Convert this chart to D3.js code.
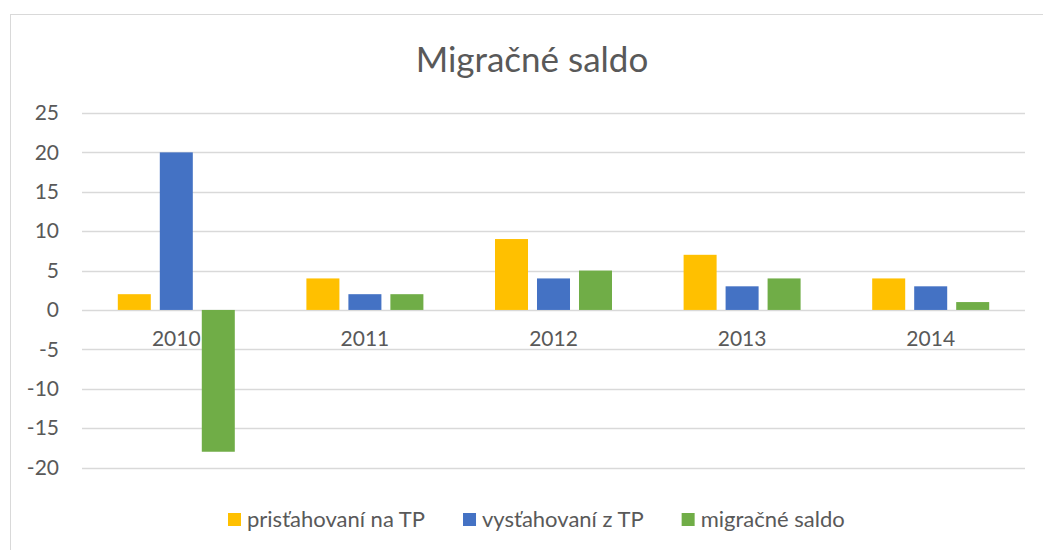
<!DOCTYPE html>
<html>
<head>
<meta charset="utf-8">
<script src="https://cdn.jsdelivr.net/npm/d3@7"></script>
<style>
  body { margin: 0; background: #fff; }
  text { font-family: Lato, "Open Sans", sans-serif; fill: #595959; }
</style>
</head>
<body>
<div id="chart"></div>
<script>
const years = ["2010", "2011", "2012", "2013", "2014"];
const seriesNames = ["prisťahovaní na TP", "vysťahovaní z TP", "migračné saldo"];
const prist = [2, 4, 9, 7, 4];
const vyst = [20, 2, 4, 3, 3];
const saldo = [-18, 2, 5, 4, 1];
const yTicks = [25, 20, 15, 10, 5, 0, -5, -10, -15, -20];
const colors = ["#FFC000", "#4472C4", "#70AD47"];

const width = 1043, height = 550;
const plot = { left: 82, right: 1025, top: 113, bottom: 467.5 };

const svg = d3.select("#chart")
	.append("svg")
	.attr("width", width)
	.attr("height", height);

// chart border
svg.append("rect")
	.attr("x", 10.5)
	.attr("y", 14.5)
	.attr("width", 1040)
	.attr("height", 545)
	.attr("fill", "none")
	.attr("stroke", "#d9d9d9")
	.attr("stroke-width", 1);

// title
svg.append("text")
	.attr("x", 532)
	.attr("y", 72)
	.attr("text-anchor", "middle")
	.attr("font-size", "35px")
	.text("Migračné saldo");

const y = d3.scaleLinear()
	.domain([-20, 25])
	.range([plot.bottom, plot.top]);

const x0 = d3.scaleBand()
	.domain(years)
	.range([plot.left, plot.right]);

const groupWidth = 117;
const x1 = d3.scaleBand()
	.domain(d3.range(seriesNames.length))
	.range([0, groupWidth])
	.paddingInner(0.214);

// gridlines
svg.append("g")
	.selectAll("line")
	.data(yTicks)
	.join("line")
	.attr("x1", plot.left)
	.attr("x2", plot.right)
	.attr("y1", d => Math.round(y(d)) + 0.5)
	.attr("y2", d => Math.round(y(d)) + 0.5)
	.attr("stroke", "#d9d9d9")
	.attr("stroke-width", 1.5);

// y axis labels
const yAxis = svg.append("g")
	.attr("transform", `translate(${plot.left - 23}, 0)`)
	.call(d3.axisLeft(y).tickValues(yTicks).tickFormat(d => String(d)).tickSize(0).tickPadding(0));
yAxis.select(".domain").remove();
yAxis.selectAll("text")
	.attr("font-size", "21px")
	.attr("font-family", "Lato, 'Open Sans', sans-serif")
	.attr("fill", "#595959");

// bars
const data = years.map((yr, i) => ({ year: yr, values: [prist[i], vyst[i], saldo[i]] }));
const groups = svg.append("g")
	.selectAll("g")
	.data(data)
	.join("g")
	.attr("transform", d => `translate(${x0(d.year) + (x0.bandwidth() - groupWidth) / 2}, 0)`);

groups.selectAll("rect")
	.data(d => d.values.map((v, k) => ({ k: k, v: v })))
	.join("rect")
	.attr("x", d => x1(d.k))
	.attr("y", d => y(Math.max(0, d.v)))
	.attr("width", x1.bandwidth())
	.attr("height", d => Math.abs(y(d.v) - y(0)))
	.attr("fill", d => colors[d.k]);

// category labels
const xAxis = svg.append("g")
	.attr("transform", `translate(0, ${y(0)})`)
	.call(d3.axisBottom(x0).tickSize(0).tickPadding(21));
xAxis.select(".domain").remove();
xAxis.selectAll("text")
	.attr("font-size", "21px")
	.attr("font-family", "Lato, 'Open Sans', sans-serif")
	.attr("fill", "#595959");

// legend
const legend = svg.append("g");
let lx = 228;
seriesNames.forEach((name, k) => {
	legend.append("rect")
		.attr("x", lx)
		.attr("y", 513)
		.attr("width", 13)
		.attr("height", 13)
		.attr("fill", colors[k]);
	const t = legend.append("text")
		.attr("x", lx + 19)
		.attr("y", 527)
		.attr("font-size", "22px")
		.text(name);
	lx += 19 + t.node().getComputedTextLength() + 38;
});
</script>
</body>
</html>
